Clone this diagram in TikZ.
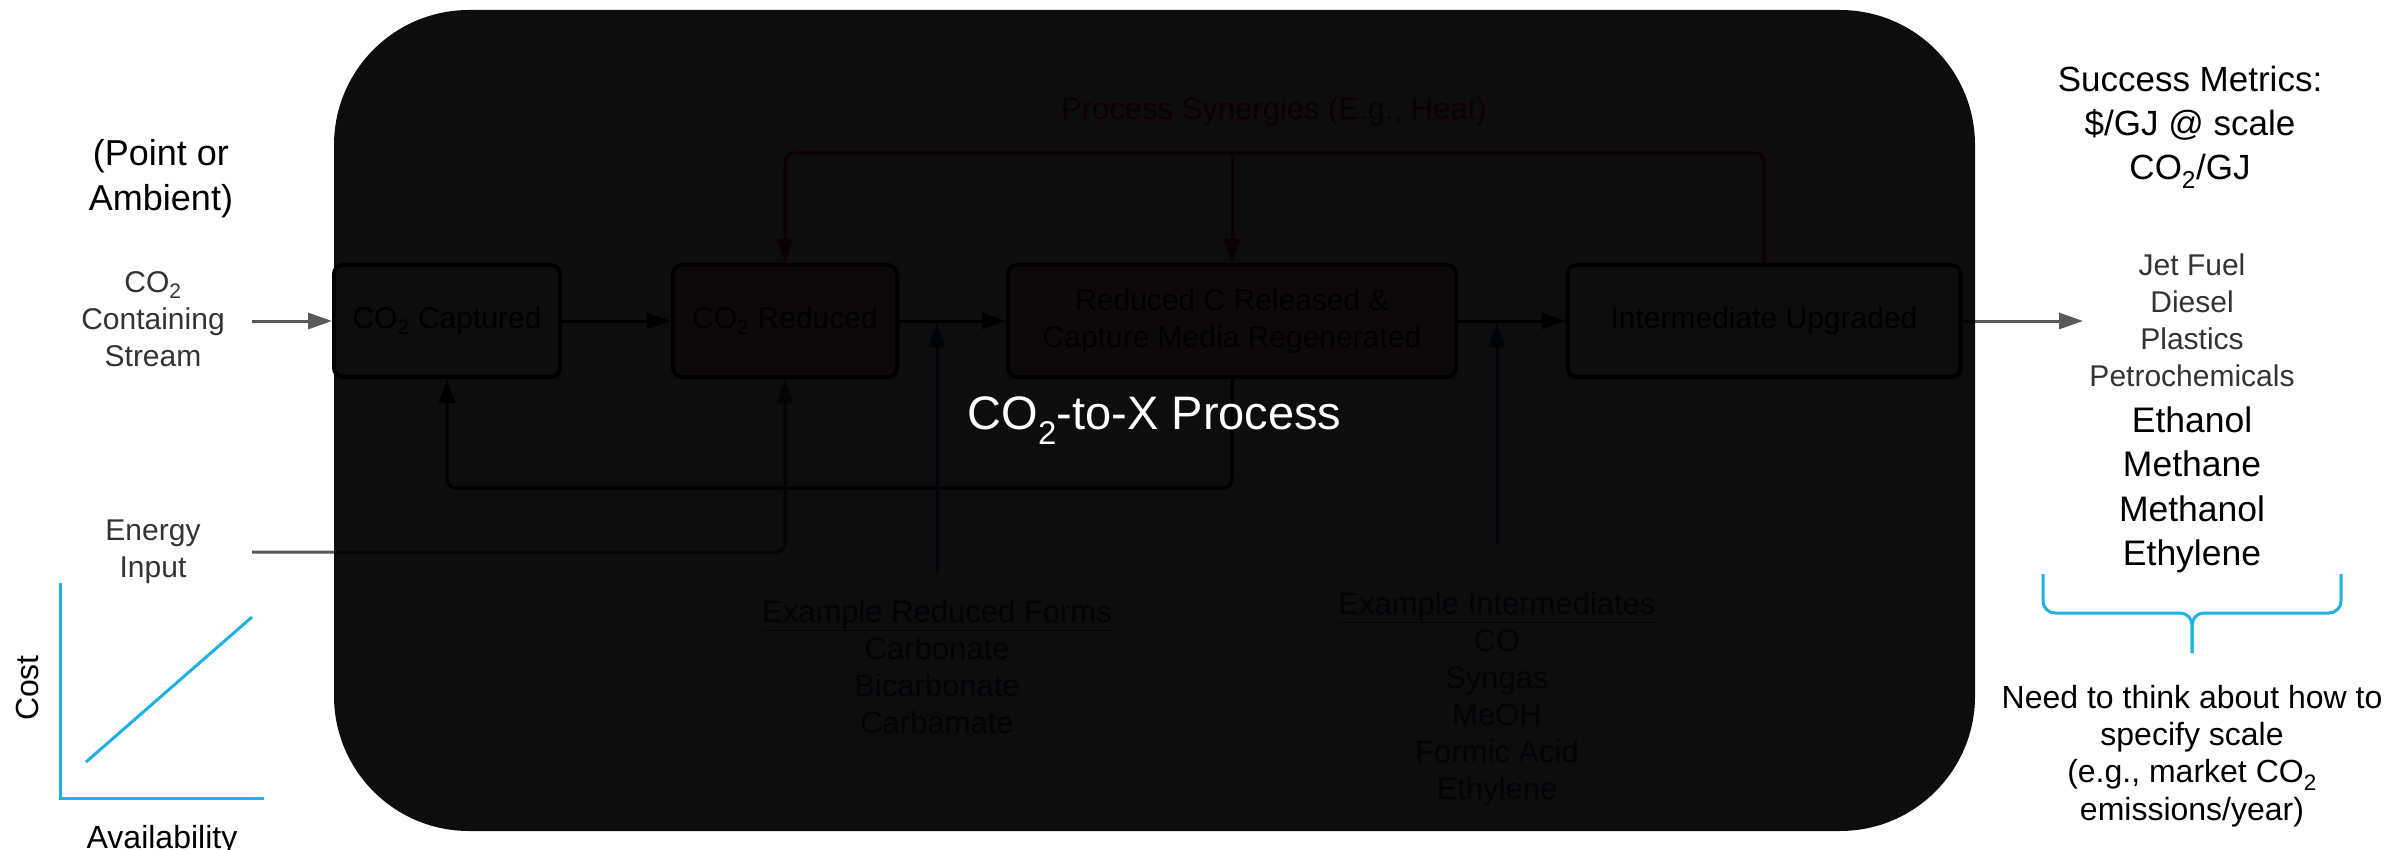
\documentclass[tikz,border=0pt]{standalone}
\usepackage{fontspec}
\setmainfont{Liberation Sans}
\usepackage{tikz}
\usetikzlibrary{arrows.meta}
\definecolor{arrowgray}{HTML}{595959}
\definecolor{textgray}{HTML}{333333}
\definecolor{skyblue}{HTML}{1FB0E6}
\definecolor{synred}{HTML}{FF0000}
\definecolor{exblue}{HTML}{0A4A8C}
\definecolor{peach}{HTML}{FFBCA8}

\begin{document}
\begin{tikzpicture}
  [x=1pt,y=-1pt,>={Triangle[length=24pt,width=16pt]},
   every node/.style={inner sep=0pt,align=center},
   box/.style={draw=black,line width=4pt,rounded corners=9pt,fill=white,
     minimum height=112pt,font=\fontsize{30}{37}\selectfont},
   hot/.style={box,fill=peach},
   flow/.style={->,line width=3pt},
   feed/.style={->,line width=3pt,draw=arrowgray},
   syn/.style={->,line width=3pt,draw=synred,rounded corners=9pt},
   ex/.style={->,line width=3pt,draw=exblue},
   exnode/.style={font=\fontsize{31}{37}\selectfont,text=exblue},
   side/.style={font=\fontsize{30}{37}\selectfont,text=textgray},
   big/.style={font=\fontsize{35}{44}\selectfont},
   chart/.style={line width=3pt,draw=skyblue},
   veil/.style={fill=black,fill opacity=0.95,text opacity=1,text=white,
     rounded corners=135pt,font=\fontsize{47}{56}\selectfont}]
  \useasboundingbox (0,0) rectangle (2392,850);

  \node[box,minimum width=226pt] (capt) at (447,321) {CO\textsubscript{2} Captured};
  \node[hot,minimum width=224pt] (red) at (785,321) {CO\textsubscript{2} Reduced};
  \node[hot,minimum width=448pt] (rel) at (1232,321) {Reduced C Released \&\\Capture Media Regenerated};
  \node[box,minimum width=393pt] (upg) at (1764,321) {Intermediate Upgraded};

  \node[big,font=\fontsize{36}{45}\selectfont,anchor=north] (pt) at (161,139) {(Point or\\Ambient)};
  \node[side,minimum width=198pt,anchor=north] (inp) at (153,271) {CO\textsubscript{2}\\Containing\\Stream};
  \node[side,minimum width=198pt,anchor=north] (nrg) at (153,520) {Energy\\Input};

  \node[font=\fontsize{31}{37}\selectfont,text=synred,anchor=base] (syntxt) at (1274,120) {Process Synergies (E.g., Heat)};
  \node[exnode,anchor=north] (redf) at (937,600) {\underline{Example Reduced Forms}\\Carbonate\\Bicarbonate\\Carbamate};
  \node[exnode,anchor=north] (intm) at (1497,592) {\underline{Example Intermediates}\\CO\\Syngas\\MeOH\\Formic Acid\\Ethylene};

  \node[big,anchor=north] (succ) at (2190,66) {Success Metrics:\\\$/GJ @ scale\\CO\textsubscript{2}/GJ};
  \node[side,anchor=north] (jet) at (2192,254) {Jet Fuel\\Diesel\\Plastics\\Petrochemicals};
  \node[font=\fontsize{35.5}{44.5}\selectfont,anchor=north] (eth) at (2192,406.5) {Ethanol\\Methane\\Methanol\\Ethylene};
  \node[font=\fontsize{32}{37.3}\selectfont,anchor=north] (note) at (2192,685) {Need to think about how to\\specify scale\\(e.g., market CO\textsubscript{2}\\emissions/year)};

  \coordinate (bus) at (1274,153);
  \coordinate (loop) at (840,488);
  \coordinate (tapr) at (937,323);
  \coordinate (tapi) at (1497,323);
  \coordinate (outp) at (2083,321);

  \draw[feed] (capt.west -| inp.east) -- (capt.west);
  \draw[flow] (capt) -- (red);
  \draw[flow] (red) -- (rel);
  \draw[flow] (rel) -- (upg);
  \draw[feed] (upg) -- (outp);
  \draw[syn] (upg.north) |- (bus -| red.north) -- (red.north);
  \draw[syn] (bus -| rel.north) -- (rel.north);
  \draw[flow,rounded corners=9pt] (rel.south) |- (loop -| capt.south) -- (capt.south);
  \draw[feed,rounded corners=9pt] (nrg.east) -| (red.south);
  \draw[ex,shorten <=28pt] (redf) -- (tapr);
  \draw[ex,shorten <=48pt] (intm) -- (tapi);

  \node[veil,minimum width=1641pt,minimum height=821pt] (proc) at (1154.5,420.5) {CO\textsubscript{2}-to-X Process};

  \coordinate (ctop) at (60,583);
  \coordinate (corg) at (60,798);
  \coordinate (cend) at (264,798);
  \coordinate (lo) at (86,762);
  \coordinate (hi) at (252,617);
  \draw[chart] (ctop) -- (corg) -- (cend);
  \draw[chart] (lo) -- (hi);
  \node[font=\fontsize{32}{38}\selectfont,rotate=90] (cost) at (27,688) {Cost};
  \node[font=\fontsize{32}{38}\selectfont,anchor=north] (avail) at (162,825) {Availability};

  \coordinate (brl) at (2043,574);
  \coordinate (brr) at (2341,574);
  \coordinate (brmid) at (2192,613);
  \coordinate (brtip) at (2192,653);
  \draw[chart,rounded corners=12pt] (brl) |- (brmid) -- (brtip);
  \draw[chart,rounded corners=12pt] (brr) |- (brmid) -- (brtip);
\end{tikzpicture}
\end{document}
